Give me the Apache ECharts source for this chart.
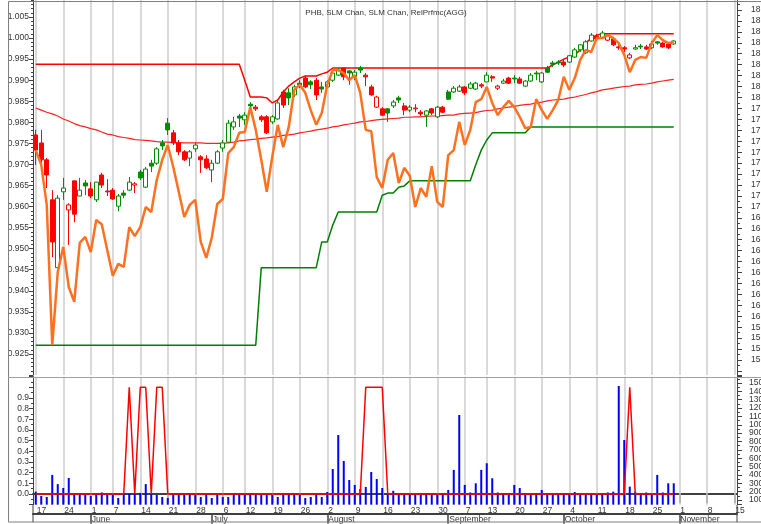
<!DOCTYPE html>
<html><head><meta charset="utf-8">
<script src="https://cdn.jsdelivr.net/npm/echarts@6/dist/echarts.min.js"></script>
<style>html,body{margin:0;padding:0;background:#fff;overflow:hidden}#c{width:761px;height:524px}</style>
</head><body><div id="c"></div>
<script>
const FONT = '"Liberation Sans", Arial, sans-serif';
const chartTitle = 'PHB, SLM Chan, SLM Chan, RelPrfmc(AGG)';
const holidays = ['2021-05-31', '2021-07-05', '2021-09-06'];
const monthNames = ['January','February','March','April','May','June','July','August','September','October','November','December'];

// PHB daily candles: [open, close, low, high] (left-scale units)
const candles = [
[0.9770,0.9734,0.9699,0.9782],[0.9751,0.9711,0.9703,0.9782],[0.9711,0.9675,0.9644,0.9715],[0.9616,0.9516,0.9480,0.9639],
[0.9455,0.9620,0.9455,0.9627],[0.9635,0.9644,0.9616,0.9668],[0.9592,0.9604,0.9509,0.9608],[0.9661,0.9582,0.9563,0.9661],
[0.9625,0.9639,0.9625,0.9668],[0.9656,0.9649,0.9627,0.9663],[0.9642,0.9625,0.9620,0.9658],[0.9616,0.9658,0.9611,0.9658],
[0.9675,0.9651,0.9644,0.9680],[0.9637,0.9635,0.9625,0.9665],[0.9639,0.9618,0.9616,0.9644],[0.9601,0.9625,0.9589,0.9630],
[0.9632,0.9627,0.9620,0.9639],[0.9639,0.9658,0.9637,0.9670],[0.9651,0.9654,0.9632,0.9658],[0.9682,0.9668,0.9663,0.9687],
[0.9646,0.9689,0.9644,0.9694],[0.9703,0.9696,0.9682,0.9711],[0.9703,0.9737,0.9699,0.9741],[0.9751,0.9744,0.9734,0.9758],
[0.9798,0.9782,0.9770,0.9810],[0.9775,0.9751,0.9746,0.9782],[0.9751,0.9730,0.9722,0.9758],[0.9730,0.9711,0.9708,0.9734],
[0.9715,0.9730,0.9696,0.9734],[0.9737,0.9746,0.9730,0.9751],[0.9718,0.9711,0.9680,0.9722],[0.9713,0.9692,0.9689,0.9722],
[0.9687,0.9703,0.9658,0.9711],[0.9703,0.9730,0.9701,0.9734],[0.9739,0.9751,0.9730,0.9758],[0.9753,0.9798,0.9753,0.9806],
[0.9789,0.9801,0.9782,0.9813],[0.9815,0.9810,0.9789,0.9820],[0.9806,0.9817,0.9794,0.9824],[0.9843,0.9839,0.9822,0.9848],
[0.9836,0.9832,0.9827,0.9841],[0.9813,0.9806,0.9801,0.9817],[0.9813,0.9775,0.9772,0.9817],[0.9801,0.9813,0.9796,0.9817],
[0.9808,0.9846,0.9806,0.9851],[0.9872,0.9841,0.9834,0.9877],[0.9870,0.9858,0.9841,0.9881],[0.9865,0.9884,0.9860,0.9889],
[0.9893,0.9889,0.9881,0.9900],[0.9905,0.9884,0.9881,0.9910],[0.9896,0.9889,0.9879,0.9900],[0.9900,0.9865,0.9853,0.9905],
[0.9884,0.9879,0.9870,0.9896],[0.9884,0.9896,0.9881,0.9900],[0.9900,0.9917,0.9896,0.9924],[0.9912,0.9924,0.9910,0.9929],
[0.9929,0.9908,0.9900,0.9929],[0.9922,0.9917,0.9889,0.9924],[0.9908,0.9919,0.9900,0.9924],[0.9929,0.9924,0.9917,0.9934],
[0.9912,0.9908,0.9886,0.9917],[0.9884,0.9865,0.9863,0.9889],[0.9836,0.9860,0.9834,0.9863],[0.9832,0.9817,0.9815,0.9836],
[0.9832,0.9822,0.9801,0.9834],[0.9839,0.9848,0.9834,0.9853],[0.9858,0.9853,0.9846,0.9863],[0.9839,0.9829,0.9817,0.9846],
[0.9829,0.9836,0.9824,0.9841],[0.9832,0.9834,0.9824,0.9843],[0.9824,0.9820,0.9815,0.9829],[0.9817,0.9827,0.9789,0.9829],
[0.9832,0.9822,0.9817,0.9834],[0.9813,0.9836,0.9810,0.9839],[0.9836,0.9824,0.9822,0.9839],[0.9872,0.9855,0.9853,0.9877],
[0.9872,0.9881,0.9870,0.9886],[0.9874,0.9884,0.9872,0.9889],[0.9884,0.9870,0.9865,0.9886],[0.9881,0.9891,0.9879,0.9896],
[0.9879,0.9893,0.9877,0.9896],[0.9889,0.9886,0.9881,0.9893],[0.9896,0.9912,0.9896,0.9919],[0.9908,0.9905,0.9896,0.9912],
[0.9881,0.9886,0.9877,0.9889],[0.9893,0.9898,0.9891,0.9903],[0.9905,0.9893,0.9891,0.9908],[0.9905,0.9903,0.9893,0.9912],
[0.9903,0.9893,0.9891,0.9908],[0.9886,0.9898,0.9884,0.9900],[0.9898,0.9912,0.9896,0.9917],[0.9917,0.9915,0.9900,0.9922],
[0.9896,0.9917,0.9893,0.9919],[0.9929,0.9919,0.9917,0.9934],[0.9941,0.9938,0.9931,0.9946],[0.9943,0.9941,0.9936,0.9948],
[0.9943,0.9936,0.9931,0.9948],[0.9943,0.9958,0.9941,0.9960],[0.9955,0.9972,0.9953,0.9977],[0.9972,0.9984,0.9967,0.9986],
[0.9965,0.9991,0.9962,0.9995],[0.9993,1.0007,0.9991,1.0012],[1.0005,0.9998,0.9995,1.0010],[1.0000,1.0012,0.9998,1.0017],
[0.9995,1.0007,0.9993,1.0010],[0.9998,0.9984,0.9981,1.0003],[0.9979,0.9977,0.9972,0.9984],[0.9977,0.9974,0.9967,0.9981],
[0.9953,0.9960,0.9950,0.9965],[0.9974,0.9977,0.9972,0.9984],[0.9981,0.9979,0.9974,0.9986],[0.9979,0.9974,0.9972,0.9984],
[0.9977,0.9986,0.9974,0.9993],[0.9991,0.9988,0.9984,0.9993],[0.9988,0.9979,0.9977,0.9991],[0.9986,0.9977,0.9974,0.9988],
[0.9986,0.9993,0.9984,0.9995]
];

// Relative performance vs AGG (orange)
const relPerf = [
0.9734,0.9699,0.9604,0.9271,0.9445,0.9504,0.9409,0.9374,0.9514,0.9528,0.9492,0.9568,0.9558,0.9497,0.9436,0.9464,
0.9457,0.9551,0.9530,0.9551,0.9599,0.9587,0.9663,0.9711,0.9746,0.9694,0.9635,0.9575,0.9604,0.9616,0.9516,0.9478,
0.9526,0.9606,0.9618,0.9727,0.9741,0.9775,0.9777,0.9836,0.9782,0.9711,0.9635,0.9718,0.9794,0.9741,0.9789,0.9877,
0.9889,0.9870,0.9829,0.9794,0.9822,0.9889,0.9924,0.9924,0.9917,0.9900,0.9912,0.9870,0.9782,0.9779,0.9670,0.9644,
0.9711,0.9727,0.9656,0.9692,0.9673,0.9599,0.9644,0.9623,0.9696,0.9611,0.9599,0.9722,0.9734,0.9801,0.9746,0.9782,
0.9848,0.9855,0.9884,0.9846,0.9817,0.9836,0.9851,0.9836,0.9813,0.9786,0.9789,0.9855,0.9829,0.9808,0.9829,0.9853,
0.9908,0.9877,0.9905,0.9948,0.9972,0.9967,1.0000,1.0000,1.0007,1.0000,0.9988,0.9960,0.9919,0.9948,0.9955,0.9953,
0.9988,1.0007,0.9995,0.9988,0.9991
];

// SLM channel upper (red)
const upperChan = [
0.9938,0.9938,0.9938,0.9938,0.9938,0.9938,0.9938,0.9938,0.9938,0.9938,0.9938,0.9938,0.9938,0.9938,0.9938,0.9938,
0.9938,0.9938,0.9938,0.9938,0.9938,0.9938,0.9938,0.9938,0.9938,0.9938,0.9938,0.9938,0.9938,0.9938,0.9938,0.9938,
0.9938,0.9938,0.9938,0.9938,0.9938,0.9938,0.9900,0.9860,0.9860,0.9860,0.9858,0.9846,0.9853,0.9872,0.9886,0.9896,
0.9905,0.9910,0.9910,0.9910,0.9915,0.9919,0.9929,0.9929,0.9929,0.9929,0.9929,0.9929,0.9929,0.9929,0.9929,0.9929,
0.9929,0.9929,0.9929,0.9929,0.9929,0.9929,0.9929,0.9929,0.9929,0.9929,0.9929,0.9929,0.9929,0.9929,0.9929,0.9929,
0.9929,0.9929,0.9929,0.9929,0.9929,0.9929,0.9929,0.9929,0.9929,0.9929,0.9929,0.9929,0.9929,0.9929,0.9936,0.9943,
0.9950,0.9955,0.9960,0.9972,0.9988,1.0000,1.0007,1.0010,1.0010,1.0010,1.0010,1.0010,1.0010,1.0010,1.0010,1.0010,
1.0010,1.0010,1.0010,1.0010,1.0010
];

// Long moving average (thin red curve)
const maLine = [
0.9834,0.9829,0.9824,0.9820,0.9815,0.9808,0.9803,0.9797,0.9792,0.9789,0.9785,0.9782,0.9777,0.9772,0.9770,0.9766,
0.9764,0.9762,0.9759,0.9758,0.9757,0.9756,0.9754,0.9753,0.9753,0.9752,0.9752,0.9751,0.9751,0.9751,0.9751,0.9750,
0.9750,0.9750,0.9750,0.9751,0.9753,0.9756,0.9757,0.9759,0.9760,0.9762,0.9763,0.9765,0.9766,0.9769,0.9770,0.9772,
0.9775,0.9777,0.9779,0.9782,0.9784,0.9786,0.9789,0.9791,0.9794,0.9796,0.9798,0.9801,0.9802,0.9804,0.9806,0.9807,
0.9808,0.9809,0.9810,0.9812,0.9812,0.9813,0.9813,0.9814,0.9815,0.9815,0.9816,0.9817,0.9817,0.9820,0.9821,0.9822,
0.9823,0.9826,0.9828,0.9829,0.9832,0.9834,0.9836,0.9838,0.9840,0.9842,0.9843,0.9846,0.9848,0.9851,0.9853,0.9854,
0.9855,0.9858,0.9860,0.9863,0.9866,0.9870,0.9873,0.9877,0.9879,0.9881,0.9883,0.9885,0.9886,0.9889,0.9890,0.9891,
0.9893,0.9896,0.9898,0.9900,0.9902
];

// SLM channel lower (green)
const lowerChan = [
0.9271,0.9271,0.9271,0.9271,0.9271,0.9271,0.9271,0.9271,0.9271,0.9271,0.9271,0.9271,0.9271,0.9271,0.9271,0.9271,
0.9271,0.9271,0.9271,0.9271,0.9271,0.9271,0.9271,0.9271,0.9271,0.9271,0.9271,0.9271,0.9271,0.9271,0.9271,0.9271,
0.9271,0.9271,0.9271,0.9271,0.9271,0.9271,0.9271,0.9271,0.9271,0.9455,0.9455,0.9455,0.9455,0.9455,0.9455,0.9455,
0.9455,0.9455,0.9455,0.9455,0.9516,0.9516,0.9556,0.9587,0.9587,0.9587,0.9587,0.9587,0.9587,0.9587,0.9587,0.9627,
0.9632,0.9632,0.9646,0.9649,0.9661,0.9661,0.9661,0.9661,0.9661,0.9661,0.9661,0.9661,0.9661,0.9661,0.9661,0.9661,
0.9699,0.9734,0.9758,0.9775,0.9775,0.9775,0.9775,0.9775,0.9775,0.9775,0.9789,0.9789,0.9789,0.9789,0.9789,0.9789,
0.9789,0.9789,0.9789,0.9789,0.9789,0.9789,0.9789,0.9789,0.9789,0.9789,0.9789,0.9789,0.9789,0.9789,0.9789,0.9789,
0.9789,0.9789,0.9789,0.9789,0.9789
];

// Lower panel: signal (red, 0..1) and volume (blue)
const signal = [
0,0,0,0,0,0,0,0,0,0,0,0,0,0,0,0,0,1,0,1,1,0,1,1,0,0,0,0,0,0,0,0,
0,0,0,0,0,0,0,0,0,0,0,0,0,0,0,0,0,0,0,0,0,0,0,0,0,0,0,0,1,1,1,1,
0,0,0,0,0,0,0,0,0,0,0,0,0,0,0,0,0,0,0,0,0,0,0,0,0,0,0,0,0,0,0,0,
0,0,0,0,0,0,0,0,0,0,0,0,1,0,0,0,0,0,0,0,0
];
const volume = [
200,148,136,400,290,244,363,160,180,170,148,175,190,165,170,124,180,175,172,185,290,170,160,136,124,170,180,160,175,165,136,170,
124,160,136,136,170,165,175,184,172,165,170,160,136,170,175,165,160,124,136,165,136,196,471,878,567,339,280,232,256,435,351,244,
180,210,175,165,180,170,160,175,170,165,180,220,460,1117,280,190,300,460,540,360,190,175,180,280,244,170,165,175,220,170,165,170,
175,180,196,170,165,175,170,180,190,200,1464,818,260,200,180,190,175,400,190,300,300
];

// trading-day categories
function tradingDays() {
  const out = [];
  let t = Date.UTC(2021, 4, 17);
  const end = Date.UTC(2021, 10, 15);
  while (t <= end) {
    const d = new Date(t);
    const wd = d.getUTCDay();
    const s = d.toISOString().slice(0, 10);
    if (wd !== 0 && wd !== 6 && holidays.indexOf(s) < 0) out.push(s);
    t += 86400000;
  }
  return out;
}
const dates = tradingDays();
const wday = s => new Date(s + 'T00:00:00Z').getUTCDay();
const isWeekStart = dates.map((s, i) => i === 0 || wday(s) < wday(dates[i - 1]));
const isMonthStart = dates.map((s, i) => i > 0 && s.slice(5, 7) !== dates[i - 1].slice(5, 7));

const GREEN = '#008c00', RED = '#ff0000';
const candleData = candles.map((k, i) => {
  const prev = i > 0 ? candles[i - 1][1] : k[0];
  const col = k[1] >= prev ? GREEN : RED;
  const fill = k[1] > k[0] ? '#ffffff' : col;
  return { value: k, itemStyle: { color: fill, color0: fill, borderColor: col, borderColor0: col, borderWidth: 1 } };
});

const gridLines = dates.filter((s, i) => isWeekStart[i]).map(s => ({ xAxis: s }));
const gridMark = {
  silent: true, z: 1, symbol: ['none', 'none'], label: { show: false },
  lineStyle: { type: 'solid', color: '#cccccc', width: 1.5 },
  emphasis: { disabled: true }, data: gridLines, animation: false
};

function stepLabel(step, lo, hi, dec) {
  return v => {
    const r = v / step;
    if (Math.abs(r - Math.round(r)) > 1e-6) return '';
    if (v < lo - 1e-9 || v > hi + 1e-9) return '';
    return v.toFixed(dec);
  };
}
const axisColor = '#404040';
const lblStyle = { color: '#333', fontSize: 8.5, fontFamily: FONT };

const chart = echarts.init(document.getElementById('c'), null, { renderer: 'canvas', width: 761, height: 524 });
chart.setOption({
  animation: false,
  backgroundColor: '#ffffff',
  textStyle: { fontFamily: FONT },
  grid: [
    { left: 33, right: 24, top: -4.06, height: 379.12, containLabel: false, outerBoundsMode: 'none' },
    { left: 33, right: 24, top: 376.67, height: 128, containLabel: false, outerBoundsMode: 'none' }
  ],
  xAxis: [
    { type: 'category', gridIndex: 0, data: dates, boundaryGap: true,
      axisLine: { show: false }, axisTick: { show: false }, axisLabel: { show: false }, splitLine: { show: false } },
    { type: 'category', gridIndex: 1, data: dates, boundaryGap: true,
      axisLine: { show: true, lineStyle: { color: axisColor, width: 2 } },
      axisTick: { show: true, alignWithLabel: true, length: 9, interval: i => isWeekStart[i], lineStyle: { color: axisColor, width: 1.5 } },
      axisLabel: Object.assign({ interval: i => isWeekStart[i], formatter: v => String(+v.slice(8, 10)),
        align: 'left', verticalAlign: 'top', margin: 1, padding: [0, 0, 0, 1] }, lblStyle),
      splitLine: { show: false } },
    { type: 'category', gridIndex: 1, data: dates, boundaryGap: true, position: 'bottom', offset: 9,
      axisLine: { show: true, lineStyle: { color: axisColor, width: 2 } },
      axisTick: { show: true, alignWithLabel: true, length: 10, interval: i => isMonthStart[i], lineStyle: { color: axisColor, width: 1.5 } },
      axisLabel: Object.assign({ interval: i => isMonthStart[i], formatter: v => monthNames[+v.slice(5, 7) - 1],
        align: 'left', verticalAlign: 'top', margin: 1, padding: [0, 0, 0, 1] }, lblStyle),
      splitLine: { show: false } }
  ],
  yAxis: [
    { type: 'value', gridIndex: 0, position: 'left', min: 0.92, max: 1.01, interval: 0.005,
      axisLine: { show: true, lineStyle: { color: axisColor } },
      axisTick: { show: true, length: 4, lineStyle: { color: axisColor } },
      minorTick: { show: true, splitNumber: 5, length: 2, lineStyle: { color: axisColor } },
      axisLabel: Object.assign({ margin: 4, formatter: stepLabel(0.005, 0.925, 1.005, 3) }, lblStyle),
      splitLine: { show: false } },
    { type: 'value', gridIndex: 0, position: 'right', min: 15.4623, max: 18.9285, splitNumber: 35,
      axisLine: { show: true, lineStyle: { color: axisColor } },
      axisTick: { show: true, length: 5, lineStyle: { color: axisColor } },
      minorTick: { show: true, splitNumber: 2, length: 3, lineStyle: { color: axisColor } },
      axisLabel: Object.assign({ margin: 14, formatter: stepLabel(0.1, 15.6, 18.8, 1) }, lblStyle),
      splitLine: { show: false } },
    { type: 'value', gridIndex: 1, position: 'left', min: -0.1, max: 1.1, interval: 0.1,
      axisLine: { show: true, lineStyle: { color: axisColor } },
      axisTick: { show: true, length: 4, lineStyle: { color: axisColor } },
      minorTick: { show: true, splitNumber: 2, length: 2, lineStyle: { color: axisColor } },
      axisLabel: Object.assign({ margin: 4, formatter: stepLabel(0.1, 0, 0.9, 1) }, lblStyle),
      splitLine: { show: false } },
    { type: 'value', gridIndex: 1, position: 'right', min: 44.1, max: 1575.4, splitNumber: 15,
      axisLine: { show: true, lineStyle: { color: axisColor } },
      axisTick: { show: true, length: 5, lineStyle: { color: axisColor } },
      minorTick: { show: true, splitNumber: 2, length: 3, lineStyle: { color: axisColor } },
      axisLabel: Object.assign({ margin: 12, formatter: stepLabel(100, 100, 1500, 0) }, lblStyle),
      splitLine: { show: false } }
  ],
  series: [
    { name: 'PHB', type: 'candlestick', xAxisIndex: 0, yAxisIndex: 0, data: candleData, barWidth: 4.5, z: 3,
      markLine: gridMark },
    { name: 'MA', type: 'line', xAxisIndex: 0, yAxisIndex: 0, data: maLine, showSymbol: false, z: 2,
      lineStyle: { color: '#ff2020', width: 1.2 } },
    { name: 'Upper', type: 'line', xAxisIndex: 0, yAxisIndex: 0, data: upperChan, showSymbol: false, z: 2,
      lineStyle: { color: RED, width: 1.5 } },
    { name: 'Lower', type: 'line', xAxisIndex: 0, yAxisIndex: 0, data: lowerChan, showSymbol: false, z: 2,
      lineStyle: { color: '#008000', width: 1.5 } },
    { name: 'RelPrfmc', type: 'line', xAxisIndex: 0, yAxisIndex: 0, data: relPerf, showSymbol: false, z: 4,
      lineStyle: { color: '#ff7020', width: 2.5 } },
    { name: 'Volume', type: 'bar', xAxisIndex: 1, yAxisIndex: 3, data: volume, barWidth: 2, z: 2,
      itemStyle: { color: '#0000ff' }, markLine: gridMark },
    { name: 'Signal', type: 'line', xAxisIndex: 1, yAxisIndex: 2, data: signal, showSymbol: false, z: 3,
      lineStyle: { color: RED, width: 1.5 } }
  ],
  graphic: [
    { type: 'rect', silent: true, z: 100, shape: { x: 8.5, y: 1.5, width: 770, height: 520.5 },
      style: { fill: 'none', stroke: '#808080', lineWidth: 1 } },
    { type: 'line', silent: true, z: 100, shape: { x1: 8, y1: 377.5, x2: 761, y2: 377.5 },
      style: { stroke: '#a0a0a0', lineWidth: 1 } },
    { type: 'line', silent: true, z: 100, shape: { x1: 33, y1: 505, x2: 33, y2: 522 },
      style: { stroke: axisColor, lineWidth: 1 } },
    { type: 'line', silent: true, z: 100, shape: { x1: 737, y1: 505, x2: 737, y2: 522 },
      style: { stroke: axisColor, lineWidth: 1 } },
    { type: 'text', silent: true, z: 100, x: 386, y: 9,
      style: { text: chartTitle, align: 'center', verticalAlign: 'top', font: '8px ' + FONT, fill: '#333' } }
  ]
});
</script></body></html>
